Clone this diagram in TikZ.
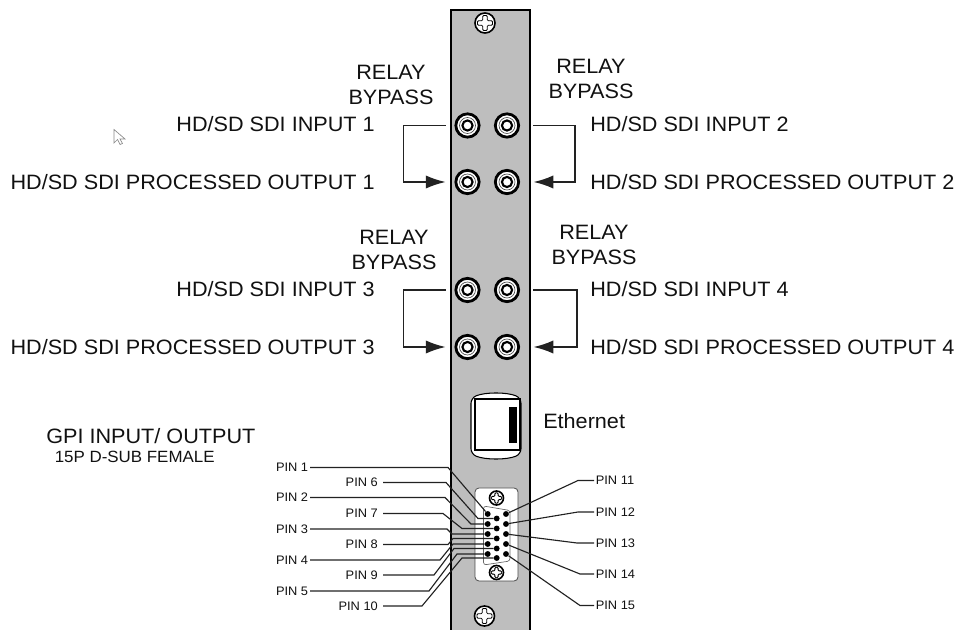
\documentclass[tikz,border=0pt]{standalone}
\usepackage{fontspec}
\setmainfont[FakeStretch=1.04]{Liberation Sans}
\usetikzlibrary{arrows.meta}
\definecolor{panelgray}{HTML}{BEBEBE}
\definecolor{inkblack}{HTML}{111111}
\definecolor{wiregray}{HTML}{222222}
\definecolor{cursorgray}{HTML}{8A8A8A}

\begin{document}
\begin{tikzpicture}[x=0.75pt,y=-0.75pt,
  every node/.style={text=inkblack},
  biglabel/.style={font=\fontsize{15.6}{18.75}\selectfont, inner sep=0pt},
  pinlabel/.style={font=\fontsize{9.25}{11}\selectfont, inner sep=1.2pt},
  farpin/.style={pinlabel, inner xsep=3.7pt},
  bnc/.style={
    circle, draw=black, line width=2.1pt, fill=white,
    minimum size=17.5pt, inner sep=0pt,
    path picture={
      \draw[black!70, line width=0.5pt] (path picture bounding box.center) circle (6pt);
      \draw[black, line width=1.6pt] (path picture bounding box.center) circle (3.8pt);
    }
  },
  pinhole/.style={circle, fill=black, minimum size=4.4pt, inner sep=0pt},
  bypass/.style={wiregray, line width=1.4pt, shorten <=6.5pt, shorten >=6.5pt,
    -{Latex[length=15pt,width=10pt]}},
  pinwire/.style={wiregray, line width=0.85pt},
  screw/.pic={
    \draw[black, fill=white, line width=1.2pt] (0,0) circle (10);
    \draw[black, fill=white, line width=0.6pt, rounded corners=0.8pt]
      (-2.3,-7.5) -- (2.3,-7.5) -- (2.3,-2.3) -- (7.5,-2.3) -- (7.5,2.3) -- (2.3,2.3) -- (2.3,7.5)
      -- (-2.3,7.5) -- (-2.3,2.3) -- (-7.5,2.3) -- (-7.5,-2.3) -- (-2.3,-2.3) -- cycle;
  }
]
  \useasboundingbox (0,0) rectangle (964,630);

  % Panel
  \fill[panelgray] (451,10) rectangle (530,630);
  \draw[black, line width=1.9pt] (451,630) -- (451,10) -- (530,10) -- (530,630);
  \pic at (485,23) {screw};
  \pic at (484.5,616) {screw};

  % Connectors
  \node[bnc] (in1) at (467.5,125.5) {};
  \node[bnc] (in2) at (507,125.5) {};
  \node[bnc] (out1) at (467.5,182) {};
  \node[bnc] (out2) at (507,182) {};
  \node[bnc] (in3) at (467.5,290) {};
  \node[bnc] (in4) at (507,290) {};
  \node[bnc] (out3) at (467.5,347) {};
  \node[bnc] (out4) at (507,347) {};

  % Relay bypass
  \draw[bypass] (in1.west) -- ++(-51,0) |- (out1.west);
  \draw[bypass, shorten <=10pt, shorten >=10pt] (in2.east) -- ++(55,0) |- (out2.east);
  \draw[bypass] (in3.west) -- ++(-51,0) |- (out3.west);
  \draw[bypass, shorten <=10pt, shorten >=10pt] (in4.east) -- ++(57,0) |- (out4.east);

  % Labels
  \node[biglabel, align=center] (relay1) at (391,84.5) {RELAY\\BYPASS};
  \node[biglabel, align=center] (relay2) at (591,78.5) {RELAY\\BYPASS};
  \node[biglabel, align=center] (relay3) at (394,249.5) {RELAY\\BYPASS};
  \node[biglabel, align=center] (relay4) at (594,244.5) {RELAY\\BYPASS};
  \node[biglabel, anchor=east] (lblin1) at (375,124) {HD/SD SDI INPUT 1};
  \node[biglabel, anchor=west] (lblin2) at (590,124) {HD/SD SDI INPUT 2};
  \node[biglabel, anchor=east] (lblout1) at (375,182) {HD/SD SDI PROCESSED OUTPUT 1};
  \node[biglabel, anchor=west] (lblout2) at (590,182) {HD/SD SDI PROCESSED OUTPUT 2};
  \node[biglabel, anchor=east] (lblin3) at (375,289) {HD/SD SDI INPUT 3};
  \node[biglabel, anchor=west] (lblin4) at (590,289) {HD/SD SDI INPUT 4};
  \node[biglabel, anchor=east] (lblout3) at (375,347) {HD/SD SDI PROCESSED OUTPUT 3};
  \node[biglabel, anchor=west] (lblout4) at (590,347) {HD/SD SDI PROCESSED OUTPUT 4};

  % Ethernet
  \draw[black, fill=white, line width=0.8pt, rounded corners=4pt]
    (471,398) .. controls (485,392) and (507,392) .. (521,398) -- (521,454)
    .. controls (507,460) and (485,460) .. (471,454) -- cycle;
  \draw[black, line width=1.2pt] (475,399) rectangle (520,450);
  \fill[black] (509,407) rectangle (517,443);
  \node[biglabel, anchor=west] (lbleth) at (543,421) {Ethernet};

  % GPI
  \node[biglabel, anchor=west] (lblgpi) at (46,436) {GPI INPUT/ OUTPUT};
  \node[font=\fontsize{12.2}{12}\selectfont, inner sep=0pt, anchor=west] (lbldsub) at (54.5,457) {15P D-SUB FEMALE};

  % D-Sub
  \draw[black!70, fill=white, line width=0.6pt, rounded corners=3pt] (475,488) rectangle (518,581);
  \draw[black!60, line width=0.5pt, rounded corners=2pt]
    (483.5,506) -- (510,510.5) -- (510,561) -- (483.5,565) -- cycle;
  \pic[scale=0.7] at (496.5,498) {screw};
  \pic[scale=0.7] at (496.5,572.5) {screw};

  \node[pinhole] (pin1) at (487.7,514) {};
  \node[pinhole] (pin2) at (487.7,524) {};
  \node[pinhole] (pin3) at (487.7,534) {};
  \node[pinhole] (pin4) at (487.7,544) {};
  \node[pinhole] (pin5) at (487.7,554) {};
  \node[pinhole] (pin6) at (496.7,518.5) {};
  \node[pinhole] (pin7) at (496.7,528.5) {};
  \node[pinhole] (pin8) at (496.7,538.5) {};
  \node[pinhole] (pin9) at (496.7,548.5) {};
  \node[pinhole] (pin10) at (496.7,558) {};
  \node[pinhole] (pin11) at (506,514) {};
  \node[pinhole] (pin12) at (506,524) {};
  \node[pinhole] (pin13) at (506,534) {};
  \node[pinhole] (pin14) at (506,544) {};
  \node[pinhole] (pin15) at (506,554) {};

  % Pin labels
  \node[pinlabel, anchor=east] (lblpin1) at (310,467.5) {PIN 1};
  \node[pinlabel, anchor=east] (lblpin2) at (310,497.5) {PIN 2};
  \node[pinlabel, anchor=east] (lblpin3) at (310,529) {PIN 3};
  \node[pinlabel, anchor=east] (lblpin4) at (310,560) {PIN 4};
  \node[pinlabel, anchor=east] (lblpin5) at (310,591) {PIN 5};
  \node[farpin, anchor=east] (lblpin6) at (383,482.5) {PIN 6};
  \node[farpin, anchor=east] (lblpin7) at (383,513.5) {PIN 7};
  \node[farpin, anchor=east] (lblpin8) at (383,544.5) {PIN 8};
  \node[farpin, anchor=east] (lblpin9) at (383,575) {PIN 9};
  \node[farpin, anchor=east] (lblpin10) at (383,606) {PIN 10};
  \node[pinlabel, anchor=west] (lblpin11) at (594,480.5) {PIN 11};
  \node[pinlabel, anchor=west] (lblpin12) at (594,512) {PIN 12};
  \node[pinlabel, anchor=west] (lblpin13) at (594,543) {PIN 13};
  \node[pinlabel, anchor=west] (lblpin14) at (594,574) {PIN 14};
  \node[pinlabel, anchor=west] (lblpin15) at (594,605.5) {PIN 15};

  % Pin wires
  \draw[pinwire] (lblpin1.east) -- (448,467.5) -- (pin1);
  \draw[pinwire] (lblpin6.east) -- (446,482.5) -- (478,518.5) -- (pin6);
  \draw[pinwire] (lblpin2.east) -- (445,497.5) -- (471,524) -- (pin2);
  \draw[pinwire] (lblpin7.east) -- (443,513.5) -- (462,528.5) -- (pin7);
  \draw[pinwire] (lblpin3.east) -- (447,529) -- (452,534) -- (pin3);
  \draw[pinwire] (lblpin8.east) -- (448,544.5) -- (453,538.5) -- (pin8);
  \draw[pinwire] (lblpin4.east) -- (440,560) -- (453,544) -- (pin4);
  \draw[pinwire] (lblpin9.east) -- (434,575) -- (454,548.5) -- (pin9);
  \draw[pinwire] (lblpin5.east) -- (429,591) -- (457,554) -- (pin5);
  \draw[pinwire] (lblpin10.east) -- (422,606) -- (462,558) -- (pin10);
  \draw[pinwire] (pin11) -- (578,480.5) -- (lblpin11.west);
  \draw[pinwire] (pin12) -- (578,512) -- (lblpin12.west);
  \draw[pinwire] (pin13) -- (577,543) -- (lblpin13.west);
  \draw[pinwire] (pin14) -- (580,574) -- (lblpin14.west);
  \draw[pinwire] (pin15) -- (580,605.5) -- (lblpin15.west);

  % Cursor
  \draw[cursorgray, fill=white, line width=0.5pt]
    (114,129.5) -- (114,143) -- (117.5,139.5) -- (120,144.5) -- (122.5,143.5)
    -- (120,139) -- (125,139) -- cycle;
\end{tikzpicture}
\end{document}
